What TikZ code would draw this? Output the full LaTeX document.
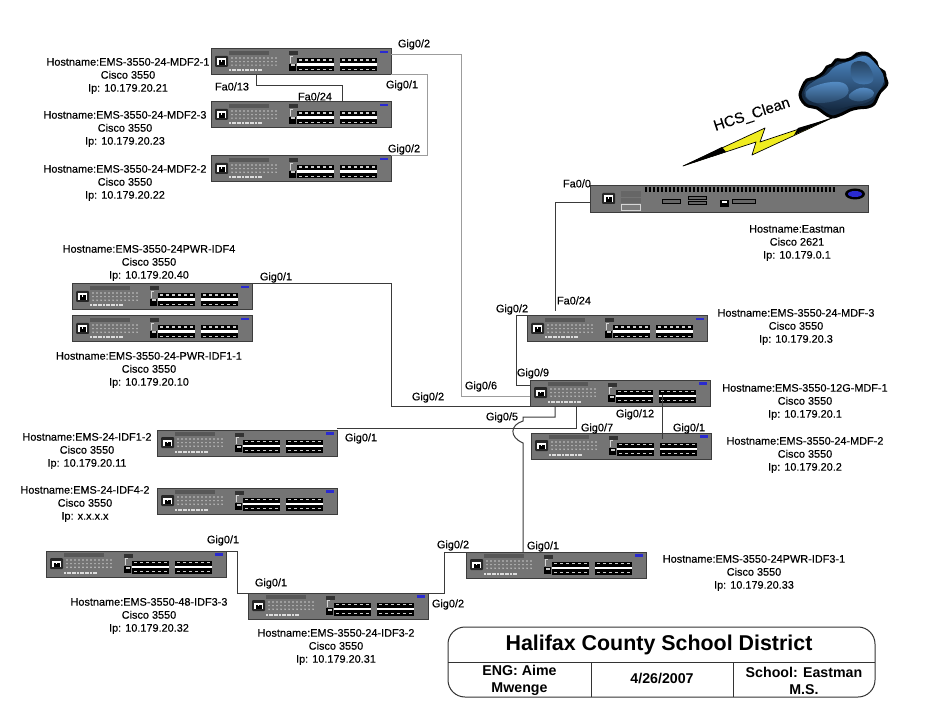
\documentclass[tikz,border=0pt]{standalone}
\usepackage{fontspec}
\setmainfont{Liberation Sans}
\newfontfamily\labelfont[FakeBold=0.25]{Liberation Sans}
\usetikzlibrary{shapes.geometric}
\definecolor{chassis}{HTML}{747474}
\definecolor{chassisedge}{HTML}{3C3C3C}
\definecolor{wiregrey}{HTML}{9C9C9C}
\definecolor{wiredark}{HTML}{3A3A3A}
\definecolor{ibmblue}{HTML}{2A2AD0}
\definecolor{cloudblue}{HTML}{4C86C2}
\definecolor{cloudnavy}{HTML}{14283F}
\definecolor{boltyellow}{HTML}{F0EC20}
\tikzset{
	switchbody/.style={draw=chassisedge,fill=chassis,line width=1pt,inner sep=0,outer sep=0,minimum width=180pt,minimum height=26pt,anchor=north west},
	routerbody/.style={switchbody,minimum width=278pt,minimum height=27pt},
	hostlabel/.style={align=center,yshift=-2pt,font=\labelfont\fontsize{10.9}{13}\selectfont},
	portlabel/.style={inner sep=0,yshift=-1.5pt,font=\labelfont\fontsize{10.9}{13}\selectfont},
	blocktext/.style={align=center,font=\fontsize{14.2}{17}\selectfont\bfseries},
	wire/.style={color=wiredark,line width=1pt},
	lightwire/.style={color=wiregrey,line width=1pt},
	blockline/.style={color=black!80,line width=1pt},
}
% power inlet: left, top
\newcommand{\inlet}[2]{
	\fill[color=black!85,rounded corners=1pt] (#1,#2) rectangle +(13,11);
	\fill[color=white] (#1+2,#2+2.5) rectangle +(9,6.5);
	\fill[color=black] (#1+3.5,#2+4.5) rectangle +(6,4.5);
	\fill[color=white] (#1+6,#2+4.5) rectangle +(1,1.5);
}
% one switch: name, left, top
\newcommand{\switchunit}[3]{
	\node[switchbody] (#1) at (#2,#3) {};
	\begin{scope}[shift={(#2,#3)}]
		\inlet{4}{7}
		\fill[color=chassis!120] (18,2) rectangle (58,6);
		\foreach \i in {0,...,11} \foreach \j in {0,1,2}
			\fill[color=white,opacity=0.6] (21+4*\i,9+3.6*\j) circle[radius=0.8];
		\foreach \i in {0,...,12}
			\fill[color=white,opacity=0.75] (18+2.6*\i,20.5) rectangle +(2,2);
		\fill[color=black!80] (78,2.5) rectangle (87,6.5);
		\draw[color=white,opacity=0.7,thin] (82,7) -- (79,7) -- (79,14);
		\fill[color=black] (78,15) rectangle (85,22);
		\fill[color=white,opacity=0.8] (79.5,15.5) rectangle (83.5,17.5);
		\foreach \g in {86,129} {
			\fill[color=black] (\g,9.5) rectangle +(37,13);
			\fill[color=white] (\g,14.5) rectangle +(37,2.8);
			\foreach \k in {0,...,5} {
				\fill[color=white,opacity=0.8] (\g+2+6*\k,10.5) rectangle +(2.6,1.6);
				\fill[color=white,opacity=0.8] (\g+2+6*\k,20) rectangle +(2.6,1.4);
			}
		}
		\fill[color=ibmblue] (169,2) rectangle (177,4.5);
	\end{scope}
}
\begin{document}
\begin{tikzpicture}[x=1pt,y=-1pt]
	\useasboundingbox (0,0) rectangle (940,727);
	\fill[color=white] (0,0) rectangle (940,727);
	\switchunit{mdftwoA}{211}{49}
	\switchunit{mdftwoC}{211}{102}
	\switchunit{mdftwoB}{211}{156}
	\switchunit{idffour}{72}{284}
	\switchunit{idfoneA}{72}{316}
	\switchunit{mdfthree}{527}{316}
	\switchunit{mdfone}{530}{380}
	\switchunit{mdftwo}{531}{433}
	\switchunit{idfoneB}{157}{430}
	\switchunit{idffourB}{157}{488}
	\switchunit{idfthreeA}{466}{552}
	\switchunit{idfthreeC}{46}{551}
	\switchunit{idfthreeB}{248}{593}
	% router
	\node[routerbody] (eastman) at (590,186) {};
	\begin{scope}[shift={(590,186)}]
		\inlet{12}{7}
		\fill[color=black!60] (31,5) rectangle (51,11);
		\fill[color=black!60] (31,12) rectangle (51,17);
		\draw[color=white,opacity=0.7,fill=black!50,thin] (31,18) rectangle (50,24);
		\foreach \k in {0,...,47}
			\fill[color=black] (55+4*\k,1.5) rectangle +(2.4,4.5);
		\draw[color=black,fill=black!60,line width=1pt] (72,14) rectangle +(18,4);
		\draw[color=black,fill=black!60,line width=1pt] (98,11) rectangle +(18,3);
		\draw[color=black,fill=black!60,line width=1pt] (98,16) rectangle +(18,3);
		\draw[color=black,fill=black!60,line width=1pt] (142,14) rectangle +(23,4);
		\fill[color=black] (130,14) rectangle (139,21);
		\fill[color=white] (132,15) rectangle (137,17);
		\fill[color=black] (265,8) ellipse[x radius=10,y radius=5.5];
		\fill[color=ibmblue] (265,8) ellipse[x radius=7,y radius=3];
	\end{scope}
	% cloud and serial link
	\coordinate (cloudfoot) at (832,118);
	\coordinate (bolttip) at (683,166);
	\draw[color=black,line width=3pt,fill=cloudnavy] plot[smooth cycle,tension=0.6] coordinates {(800,95) (803,86) (807,80) (815,78) (823,73) (827,67) (832,65) (836,60) (840,60) (846,60) (852,58) (857,54) (862,53) (868,54) (872,58) (876,62) (878,68) (884,72) (885,77) (887,83) (885,87) (880,92) (877,98) (874,104) (868,107) (858,108) (850,110) (842,114) (832,117) (824,113) (817,108) (808,106) (803,102)};
	\shade[top color=cloudblue,bottom color=cloudnavy] plot[smooth cycle,tension=0.7] coordinates {(806,88) (816,80) (826,75) (836,66) (850,61) (864,56) (874,62) (884,78) (878,92) (868,102) (850,106) (832,110) (818,104) (806,98)};
	\shade[top color=cloudblue!50!black,bottom color=cloudblue!90!black] plot[smooth cycle,tension=0.7] coordinates {(852,64) (864,62) (872,72) (872,82) (860,84) (852,78)};
	\shade[top color=cloudblue!95!white,bottom color=cloudblue!55!black] plot[smooth cycle,tension=0.7] coordinates {(806,92) (815,86) (832,82) (845,84) (848,93) (838,100) (820,103) (809,100)};
	\shade[top color=cloudblue!95!white,bottom color=cloudblue!60!black] plot[smooth cycle,tension=0.7] coordinates {(849,95) (860,88) (872,90) (873,96) (862,101) (852,100)};
	\draw[color=black,fill=boltyellow,line width=0.7pt,line join=round] (bolttip) -- (765,128) -- (760,142) -- (cloudfoot) -- (752,155) -- (756,142) -- cycle;
	\fill[color=black] (bolttip) -- (722,147) -- (726,152) -- cycle;
	\fill[color=black] (cloudfoot) -- (798,128) -- (794,135) -- cycle;
	\node[rotate=18,font=\labelfont\fontsize{15}{15}\selectfont] (hcsclean) at (752,115) {HCS\_Clean};
	% links
	\coordinate (busrise) at (461,396);
	\coordinate (busdrop) at (391,406);
	\coordinate (stackside) at (427,156);
	\coordinate (fanearA) at (256,86);
	\coordinate (fanearB) at (342,86);
	\coordinate (routerdrop) at (555,311);
	\coordinate (mdfside) at (516,385);
	\coordinate (idfonerun) at (576,428);
	\coordinate (hopstart) at (523,421);
	\coordinate (hopend) at (523,443);
	\coordinate (idfdown) at (237,593);
	\coordinate (idfup) at (444,552);
	\coordinate (uplinkA) at (555,406);
	\coordinate (uplinkB) at (555,417);
	\coordinate (stacktop) at (662,395);
	\coordinate (stackbottom) at (662,439);
	\draw[lightwire] ([yshift=-6pt]mdftwoA.north east) -| (busrise) -- (busrise -| mdfone.west);
	\draw[lightwire] (mdftwoA.south east) -| (stackside) -- (mdftwoB.north east);
	\draw[wire] (fanearA |- mdftwoA.south) -- (fanearA) -- (fanearB) -- (fanearB |- mdftwoC.north);
	\draw[wire] (idffour.north east) -| (busdrop) -- (busdrop -| mdfone.west);
	\draw[wire] (idfoneB.north east |- idfonerun) -- (idfonerun) -- (idfonerun |- mdfone.south);
	\draw[wire] (uplinkA) -- (uplinkB) -- (hopstart |- uplinkB) -- (hopstart) .. controls (510,425) and (509,437) .. (hopend) -- (hopend |- idfthreeA.north);
	\draw[wire] ([yshift=10pt]eastman.south west) -| (routerdrop);
	\draw[wire] (mdfthree.north west) -| (mdfside) -- (mdfside -| mdfone.west);
	\draw[wire] (stacktop) -- (stackbottom);
	\draw[wire] (idfthreeC.north east) -| (idfdown) -- (idfthreeB.north west);
	\draw[wire] (idfthreeB.north east) -| (idfup) -- (idfthreeA.north west);
	% port names
	\foreach \x/\y/\t [count=\i] in {414/43/{Gig0/2},232/85/{Fa0/13},315/95/{Fa0/24},402/84/{Gig0/1},404/148/{Gig0/2},
		276/276/{Gig0/1},428/396/{Gig0/2},481/385/{Gig0/6},502/416/{Gig0/5},512/308/{Gig0/2},574/299/{Fa0/24},
		533/372/{Gig0/9},635/413/{Gig0/12},597/427/{Gig0/7},689/427/{Gig0/1},361/437/{Gig0/1},223/539/{Gig0/1},
		271/582/{Gig0/1},448/603/{Gig0/2},453/544/{Gig0/2},543/545/{Gig0/1},577/182/{Fa0/0}}
		\node[portlabel] (port\i) at (\x,\y) {\t};
	% host names
	\node[hostlabel] (hostmdftwoA) at (128,74) {Hostname:EMS-3550-24-MDF2-1\\Cisco 3550\\Ip: 10.179.20.21};
	\node[hostlabel] (hostmdftwoC) at (125,127) {Hostname:EMS-3550-24-MDF2-3\\Cisco 3550\\Ip: 10.179.20.23};
	\node[hostlabel] (hostmdftwoB) at (125,181) {Hostname:EMS-3550-24-MDF2-2\\Cisco 3550\\Ip: 10.179.20.22};
	\node[hostlabel] (hostidffour) at (149,261) {Hostname:EMS-3550-24PWR-IDF4\\Cisco 3550\\Ip: 10.179.20.40};
	\node[hostlabel] (hostidfoneA) at (149,368) {Hostname:EMS-3550-24-PWR-IDF1-1\\Cisco 3550\\Ip: 10.179.20.10};
	\node[hostlabel] (hosteastman) at (797,241) {Hostname:Eastman\\Cisco 2621\\Ip: 10.179.0.1};
	\node[hostlabel] (hostmdfthree) at (796,325) {Hostname:EMS-3550-24-MDF-3\\Cisco 3550\\Ip: 10.179.20.3};
	\node[hostlabel] (hostmdfone) at (805,400) {Hostname:EMS-3550-12G-MDF-1\\Cisco 3550\\Ip: 10.179.20.1};
	\node[hostlabel] (hostmdftwo) at (805,453) {Hostname:EMS-3550-24-MDF-2\\Cisco 3550\\Ip: 10.179.20.2};
	\node[hostlabel] (hostidfoneB) at (87,449) {Hostname:EMS-24-IDF1-2\\Cisco 3550\\Ip: 10.179.20.11};
	\node[hostlabel] (hostidffourB) at (85,502) {Hostname:EMS-24-IDF4-2\\Cisco 3550\\Ip: x.x.x.x};
	\node[hostlabel] (hostidfthreeA) at (754,571) {Hostname:EMS-3550-24PWR-IDF3-1\\Cisco 3550\\Ip: 10.179.20.33};
	\node[hostlabel] (hostidfthreeC) at (149,614) {Hostname:EMS-3550-48-IDF3-3\\Cisco 3550\\Ip: 10.179.20.32};
	\node[hostlabel] (hostidfthreeB) at (336,645) {Hostname:EMS-3550-24-IDF3-2\\Cisco 3550\\Ip: 10.179.20.31};
	% title block
	\draw[blockline,rounded corners=17pt] (448,627) rectangle (875,697);
	\draw[blockline] (448,662) -- (875,662);
	\draw[blockline] (591,662) -- (591,697);
	\draw[blockline] (733,662) -- (733,697);
	\node[font=\fontsize{21.4}{24}\selectfont\bfseries] (titledistrict) at (659,645) {Halifax County School District};
	\node[blocktext] (titleeng) at (519.5,680.5) {ENG: Aime\\Mwenge};
	\node[blocktext] (titledate) at (662,678) {4/26/2007};
	\node[blocktext] (titleschool) at (804,680.5) {School: Eastman\\M.S.};
\end{tikzpicture}
\end{document}
